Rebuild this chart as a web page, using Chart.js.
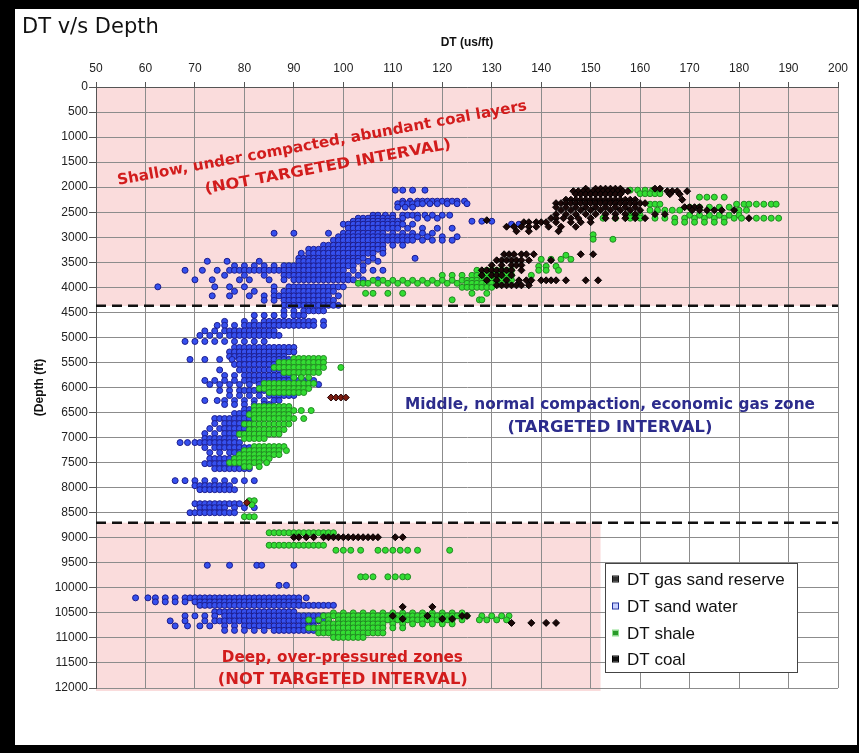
<!DOCTYPE html>
<html>
<head>
<meta charset="utf-8">
<title>DT v/s Depth</title>
<script src="https://cdn.jsdelivr.net/npm/chart.js@4.4.0/dist/chart.umd.min.js"></script>
<style>
  html, body { margin: 0; padding: 0; background: #fff; }
  #frame {
    position: absolute; left: 0; top: 0;
    width: 842px; height: 736px;
    border-style: solid; border-color: #000;
    border-width: 9px 2px 8px 15px;
    background: #fff;
  }
  canvas { display: block; }
</style>
</head>
<body>
<div id="frame"><canvas id="dt-depth-chart" width="842" height="736"></canvas></div>
<script>
// Sonic log picks, one row per depth: [depth (ft), DT (us/ft), DT, ...]
const sandWaterRows = [
  [2060, 110.5, 112, 114, 116.5],
  [2280, 112, 113.5, 115, 116, 117, 118, 119, 120, 121, 122, 123, 124.5],
  [2330, 111, 112, 113, 114, 115, 116, 117.5, 119, 121, 123, 125],
  [2400, 111, 112.5, 114],
  [2560, 106, 107, 108.5, 110, 112, 113, 114, 115, 116.5, 118, 120, 121.5],
  [2620, 103, 104, 105, 106, 107, 108, 109, 110, 112, 115, 117, 119],
  [2680, 102, 103, 104, 105, 106, 107, 108, 109, 110, 111, 126, 128, 130],
  [2740, 100, 101, 102, 103, 104, 105, 106, 107, 108, 109, 110, 111, 112, 114, 134, 135.5],
  [2820, 101, 102, 103, 104, 105, 106, 107, 108, 109, 110, 111, 113, 116, 119, 122],
  [2920, 86, 90, 97, 100, 101, 102, 103, 104, 105, 106, 107, 108, 110, 112, 114, 116, 118],
  [2990, 99, 100, 101, 102, 103, 104, 105, 106, 107, 108, 109, 110, 111, 112, 113, 114, 115, 117, 120, 123],
  [3060, 98, 99, 100, 101, 102, 103, 104, 105, 106, 107, 108, 109, 110, 111, 112, 113, 114, 116, 118, 120, 122],
  [3160, 96, 97, 98, 99, 100, 101, 102, 103, 104, 105, 106, 107, 108, 110, 112],
  [3240, 93, 94, 95, 96, 97, 98, 99, 100, 101, 102, 103, 104, 105, 106, 107, 108],
  [3320, 91.5, 93, 94, 95, 96, 97, 98, 99, 100, 101, 102, 103, 104, 105, 106, 108],
  [3420, 91, 92, 93, 94, 95, 96, 97, 98, 99, 100, 101, 102, 103, 104, 106, 114.5],
  [3480, 72.5, 76.5, 83, 91, 92, 93, 94, 95, 96, 97, 98, 99, 100, 101, 102, 103, 105, 107],
  [3570, 78, 80, 82, 84, 86, 88, 89, 90, 91, 92, 93, 94, 95, 96, 97, 98, 99, 100, 101, 102, 104],
  [3660, 68, 71.5, 74.5, 77, 78, 79, 80, 81, 82, 83, 84, 85, 86, 87, 88, 89, 90, 91, 92, 93, 94, 95, 96, 97, 98, 99, 100, 102, 104, 106, 108],
  [3760, 76, 80, 84, 88, 89, 90, 91, 92, 93, 94, 95, 96, 97, 98, 99, 100, 101, 103],
  [3850, 70, 73.5, 79, 81, 85, 88, 90, 91, 92, 93, 94, 95, 96, 97, 98, 99, 100, 101, 102, 104, 107],
  [3990, 62.5, 74, 77, 80, 86, 89, 90, 91, 92, 93, 94, 95, 96, 97, 98, 99, 100],
  [4080, 78, 82, 86, 88, 89, 90, 91, 92, 93, 94, 95, 96, 97, 98],
  [4170, 73.5, 77, 81, 84, 86, 87, 88, 89, 90, 91, 92, 93, 94, 95, 96, 97, 99],
  [4260, 84, 86, 88, 89, 90, 91, 92, 93, 94, 95, 96, 97, 98],
  [4360, 88, 89, 90, 91, 92, 93, 94, 95, 96, 97, 98, 99],
  [4470, 88, 90, 92, 93, 94, 95, 96],
  [4560, 82, 84, 86, 88, 90, 91, 92],
  [4680, 76, 80, 82, 84, 85, 86, 87, 88, 89, 90, 91, 92, 93, 94, 96],
  [4760, 74.5, 76, 78, 80, 81, 82, 83, 84, 85, 86, 87, 88, 89, 90, 91, 92, 93, 94, 96],
  [4870, 72, 74, 76, 77, 78, 79, 80, 81, 82, 83, 84, 85, 86],
  [4960, 71, 73, 75, 77, 78, 79, 80, 81, 82, 83, 84, 85, 86, 87],
  [5080, 68, 70, 72, 74, 76, 78, 80, 82, 84],
  [5200, 78, 79, 80, 81, 82, 83, 84, 85, 86, 87, 88, 89, 90],
  [5290, 77, 78, 79, 80, 81, 82, 83, 84, 85, 86, 87, 88, 89, 90],
  [5380, 77, 78, 79, 80, 81, 82, 83, 84, 85, 86, 87, 88],
  [5440, 69, 72, 75, 77.5, 79, 80, 81, 82, 83, 84, 85, 86, 87, 88, 89],
  [5540, 78, 79, 80, 81, 82, 83, 84, 85, 86, 87, 88],
  [5650, 75, 79, 80, 81, 82, 83, 84, 85, 86, 87, 88],
  [5760, 76, 78, 80, 81, 82, 83, 84, 85, 86, 87, 88, 89, 90],
  [5860, 72, 74, 76, 78, 80, 81, 82, 83, 84, 85, 86, 87, 88, 89, 90, 91, 92, 93, 94],
  [5940, 73, 75, 77, 79, 81, 83, 85, 87, 89, 91, 93, 95],
  [6060, 75, 77, 79, 80, 81, 82, 83, 84, 85, 86, 87, 88, 89, 90, 91, 92],
  [6160, 77, 79, 81, 83, 85, 86, 87, 88, 89, 90],
  [6260, 72, 74.5, 76, 78, 80, 82, 84, 86, 87],
  [6340, 76, 78, 80, 82, 84, 85],
  [6440, 80, 81, 82, 83, 84, 85],
  [6520, 78, 79, 80, 81, 82, 83],
  [6620, 74, 75, 76, 77, 78, 79, 80, 81, 82, 83],
  [6720, 74, 76, 77, 78, 79, 80, 81],
  [6820, 73, 75, 76, 77, 78, 79, 80, 81],
  [6920, 72, 74, 76, 77, 78, 79, 80],
  [7020, 72, 73, 74, 75, 76, 77, 78],
  [7100, 67, 68.5, 70, 71, 72, 73, 74, 75, 76, 77, 78, 79],
  [7200, 72, 74, 75, 76, 77, 78, 79, 80, 81, 82],
  [7300, 73, 75, 77, 78, 79, 80],
  [7420, 73, 74, 75, 76, 77, 78, 79, 80, 81],
  [7520, 72, 73, 74, 75, 76, 77, 78, 79],
  [7620, 74, 75, 76, 77, 78, 79, 80, 81],
  [7860, 66, 68, 70, 72, 74, 76, 78, 80, 82],
  [7960, 70, 71, 72, 73, 74, 75, 76, 77],
  [8040, 71, 72, 73, 74, 75, 76, 77, 78],
  [8320, 70, 71, 72, 73, 74, 75, 76, 77, 78, 79],
  [8400, 71, 72, 73, 74, 75, 76, 78, 80, 82],
  [8500, 69, 70, 71, 72, 73, 74, 75, 76, 77, 78],
  [9550, 72.5, 77, 82.5, 83.5, 90],
  [9950, 87, 88.5],
  [10200, 58, 60.5, 62, 64, 66, 68, 69, 70, 71, 72, 73, 74, 75, 76, 77, 78, 79, 80, 81, 82, 83, 84, 85, 86, 87, 88, 89, 90, 91, 92.5],
  [10280, 62, 64, 66, 68, 70, 71, 72, 73, 74, 75, 76, 77, 78, 79, 80, 81, 82, 83, 84, 85, 86, 87, 88, 89, 90, 91],
  [10350, 71, 72, 73, 74, 75, 76, 77, 78, 79, 80, 81, 82, 83, 84, 85, 86, 87, 88, 89, 90, 91, 92, 93, 94, 95, 96, 97, 98],
  [10480, 74, 75, 76, 77, 78, 79, 80, 81, 82, 83, 84, 85, 86, 87, 88, 89, 90],
  [10560, 68, 70, 72, 74, 76, 77, 78, 79, 80, 81, 82, 83, 84, 85, 86, 87, 88, 89, 90, 91, 92, 93, 94, 95, 96],
  [10660, 65, 68, 72, 74, 75, 76, 77, 78, 79, 80, 81, 82, 83, 84, 85, 86, 87, 88, 89, 90, 91, 92, 93, 94, 95, 96, 97],
  [10760, 66, 68.5, 71, 73, 76, 78, 80, 81, 82, 83, 84, 85, 86, 87, 88, 89, 90, 91, 92, 93, 94],
  [10850, 76, 78, 80, 82, 84, 86, 87, 88, 89, 90, 91, 92, 93, 94]
];

const shaleRows = [
  [2060, 158, 159.5, 161, 162.5, 164],
  [2130, 160, 161, 162, 163, 164],
  [2200, 172, 173.5, 175, 177],
  [2340, 162, 163, 164, 179.5, 181, 182, 183.5, 185, 186.5, 187.5],
  [2400, 170, 172, 174, 176, 178],
  [2460, 162, 163.5, 165, 166.5, 168, 180, 181.5],
  [2560, 158, 160, 170, 172, 174, 176, 178, 180],
  [2620, 152.5, 155, 158, 160, 163, 165, 167, 169, 171, 173, 175, 177, 179, 180.5, 183.5, 185, 186.5, 188],
  [2700, 167, 169, 171, 173, 175, 177],
  [2950, 150.5],
  [3040, 150.5, 154.5],
  [3360, 145],
  [3440, 140, 142, 144, 146],
  [3580, 139.5, 141, 143],
  [3660, 127, 129, 130, 131, 132, 133, 134, 139.5, 141, 143.5],
  [3760, 120, 122, 124, 126, 127, 128, 129, 130, 131, 132, 133, 134, 138],
  [3860, 106, 108, 110, 112, 114, 116, 118, 120, 122, 124, 125, 126, 127, 128, 129, 130, 131, 132, 133, 134],
  [3920, 103, 104, 105, 107, 109, 111, 113, 115, 117, 119, 121, 123, 125, 126, 127, 128, 129, 130, 131],
  [4000, 124, 125, 126, 127, 128, 129, 130],
  [4120, 104.5, 106, 109, 112, 126, 129],
  [4250, 122, 127.5, 128],
  [5420, 90, 91, 92, 93, 94, 95, 96],
  [5500, 87, 88, 89, 90, 91, 92, 93, 94, 95, 96],
  [5600, 86, 87, 88, 89, 90, 91, 92, 93, 94, 95, 96, 99.5],
  [5700, 88, 89, 90, 91, 92, 93, 94, 95],
  [5800, 90, 91.5, 93],
  [5920, 84, 85, 86, 87, 88, 89, 90, 91, 92, 93, 94],
  [6020, 83, 84, 85, 86, 87, 88, 89, 90, 91, 92, 93],
  [6100, 85, 86, 87, 88, 89, 90, 91, 92],
  [6380, 82, 83, 84, 85, 86, 87, 88, 89],
  [6460, 82, 83, 84, 85, 86, 87, 88, 89, 90, 91.5, 93.5],
  [6540, 81, 82, 83, 84, 85, 86, 87, 88, 89],
  [6620, 82, 83, 84, 85, 86, 87, 88, 89, 90, 92],
  [6730, 80, 81, 82, 83, 84, 85, 86, 87, 88, 89],
  [6840, 81, 82, 83, 84, 85, 86, 87, 88],
  [6930, 79, 80, 81, 82, 83, 84, 85, 86, 87],
  [7020, 80, 81, 82, 83, 84],
  [7180, 82, 83, 84, 85, 86, 87, 88],
  [7260, 80, 81, 82, 83, 84, 85, 86, 87, 88.5],
  [7340, 79, 80, 81, 82, 83, 84, 85, 86, 87],
  [7420, 78, 79, 80, 81, 82, 83, 84, 85],
  [7500, 77, 78, 79, 80, 81, 82, 83, 84.5],
  [7580, 80, 81, 83],
  [8260, 81, 82],
  [8340, 81.5],
  [8580, 80, 81, 82],
  [8900, 85, 86, 87, 88, 89, 90, 91, 92, 93, 94, 95, 96, 97, 98],
  [9150, 85, 86, 87, 88, 89, 90, 91, 92, 93, 94, 95, 96],
  [9250, 98.5, 100, 101.5, 103.5, 107, 108.5, 110, 111.5, 113, 115, 121.5],
  [9780, 103.5, 104.5, 106, 109, 110.5, 112, 113],
  [10500, 98, 100, 102, 104, 106, 108, 110, 112, 114, 116, 118, 120, 122, 124],
  [10560, 96, 97, 98, 99, 100, 101, 102, 103, 104, 105, 106, 107, 108, 109, 110, 111, 112, 113, 114, 115, 116, 117, 118, 119, 120, 121, 122, 123, 125, 128, 130, 132, 133.5],
  [10640, 93, 95, 97, 99, 100, 101, 102, 103, 104, 105, 106, 107, 108, 109, 110, 111, 112, 113, 114, 115, 116, 117, 118, 119, 120, 121, 122, 124, 127.5, 129, 131, 133],
  [10720, 96, 97, 98, 99, 100, 101, 102, 103, 104, 105, 106, 107, 108, 110, 112, 114, 116, 118, 120, 122],
  [10800, 93, 94, 95, 96, 97, 98, 99, 100, 101, 102, 103, 104, 105, 106, 107, 108, 110, 112],
  [10900, 95, 96, 97, 98, 99, 100, 101, 102, 103, 104, 105, 106, 107, 108],
  [10990, 98, 99, 100, 101, 102, 103, 104]
];

const coalRows = [
  [2030, 149, 151, 152, 153, 154, 155, 156, 163, 164],
  [2080, 146.5, 147.5, 148.5, 149.5, 150.5, 151.5, 152.5, 153.5, 154.5, 155.5, 156.5, 157.5, 165.5, 166.5, 167.5, 169.5],
  [2140, 147, 148, 149, 150, 151, 152, 153, 154, 155, 156, 166, 168],
  [2250, 145, 146, 147, 148, 149, 150, 151, 152, 153, 154, 155, 156, 157, 158, 159, 168.5],
  [2320, 143, 144, 145, 146, 147, 148, 149, 150, 151, 152, 153, 154, 155, 156, 157, 158, 159, 160, 161],
  [2400, 143, 145, 147, 149, 151, 153, 155, 157, 159, 169, 170, 171, 172],
  [2460, 144, 146, 148, 150, 152, 154, 156, 158, 160, 170.5, 172, 173.5, 175, 176.5, 179],
  [2540, 143, 145, 147, 149, 151, 153, 155, 157, 159, 163, 165],
  [2620, 142, 143, 144.5, 146, 147.5, 150, 153, 155, 157, 159, 161, 182],
  [2660, 129],
  [2700, 136.5, 137.5, 139, 140, 141, 143, 146, 148, 150],
  [2790, 133, 134.5, 136, 137.5, 139, 141.5, 144, 147],
  [2880, 135, 137.5, 143.5],
  [3340, 132.5, 133.5, 134.5, 136, 137, 138.5, 148, 150.5],
  [3460, 131, 132, 133, 134, 135, 136, 137.5, 142],
  [3560, 130, 132, 134, 135, 136],
  [3660, 128, 129, 130, 131, 132, 133, 134, 136],
  [3760, 128, 130, 131, 132, 134],
  [3860, 129, 131, 133, 135.5, 137, 138, 140, 141, 142, 143, 145, 149, 151.5],
  [3960, 131, 132, 133, 134, 135, 136, 137.5],
  [8990, 90, 91, 92.5, 94, 96, 97, 98, 99, 100, 101, 102, 103, 104, 105, 106, 107, 110.5, 112],
  [10380, 112, 118],
  [10560, 110, 117, 124, 125],
  [10620, 112, 120, 122],
  [10700, 134, 138, 141, 143]
];

const gasSandRows = [
  [6200, 97.5, 98.5, 99.5, 100.5],
  [8300, 80.5]
];

// Series names, in legend order
const seriesNames = ['DT gas sand reserve', 'DT sand water', 'DT shale', 'DT coal'];

// Axis ranges and tick spacing
const dtMin = 50, dtMax = 200, dtStep = 10;
const depthMin = 0, depthMax = 12000, depthStep = 500;

// Zone boundaries (ft) and right edge (us/ft) of the deep shaded interval
const shallowBase = 4370;
const deepTop = 8700;
const deepShadeMaxDT = 152;

function rowsToPoints(rows) {
  return rows.flatMap(([depth, ...dts]) => dts.map(dt => ({ x: dt, y: depth })));
}

function scatterSet(label, rows, fill, border, style, radius) {
  return {
    type: 'scatter',
    label: label,
    data: rowsToPoints(rows),
    backgroundColor: fill,
    borderColor: border,
    borderWidth: 1,
    pointStyle: style,
    pointRadius: radius,
    pointHoverRadius: radius
  };
}

function boundaryLine(depth) {
  return {
    type: 'line',
    label: 'boundary',
    data: [{ x: dtMin, y: depth }, { x: dtMax, y: depth }],
    borderColor: '#111',
    borderWidth: 2.5,
    borderDash: [10, 6],
    pointRadius: 0,
    fill: false
  };
}

// Pink shading for the non-targeted intervals, drawn under the grid
const zoneShading = {
  id: 'zoneShading',
  beforeDraw(chart) {
    const { ctx, scales: { x, y } } = chart;
    ctx.save();
    ctx.fillStyle = '#fadcdc';
    const l = x.getPixelForValue(dtMin), r = x.getPixelForValue(dtMax);
    ctx.fillRect(l, y.getPixelForValue(depthMin), r - l, y.getPixelForValue(shallowBase) - y.getPixelForValue(depthMin));
    const r2 = x.getPixelForValue(deepShadeMaxDT);
    ctx.fillRect(l, y.getPixelForValue(deepTop), r2 - l, y.getPixelForValue(depthMax) - y.getPixelForValue(deepTop) + 3);
    ctx.restore();
  }
};

function drawNote(ctx, text, px, py, color, angle, width) {
  ctx.save();
  ctx.translate(px, py);
  if (angle) ctx.rotate(angle);
  ctx.font = 'bold 15px "DejaVu Sans"';
  ctx.fillStyle = color;
  ctx.textAlign = 'center';
  ctx.textBaseline = 'middle';
  const w = ctx.measureText(text).width;
  ctx.scale(width / w, 1);
  ctx.fillText(text, 0, 0);
  ctx.restore();
}

// Interval notes, anchored in data coordinates
const zoneNotes = {
  id: 'zoneNotes',
  afterDatasetsDraw(chart) {
    const { ctx, scales: { x, y } } = chart;
    const red = '#d21c1c', navy = '#2c2c8c';
    const tilt = -0.181;
    drawNote(ctx, 'Shallow, under compacted, abundant coal layers', x.getPixelForValue(95.7), y.getPixelForValue(1130), red, tilt, 416);
    drawNote(ctx, '(NOT TARGETED INTERVAL)', x.getPixelForValue(96.9), y.getPixelForValue(1600), red, tilt, 250);
    drawNote(ctx, 'Middle, normal compaction, economic gas zone', x.getPixelForValue(153.9), y.getPixelForValue(6360), navy, 0, 410);
    drawNote(ctx, '(TARGETED INTERVAL)', x.getPixelForValue(153.9), y.getPixelForValue(6820), navy, 0, 205);
    drawNote(ctx, 'Deep, over-pressured zones', x.getPixelForValue(99.8), y.getPixelForValue(11400), red, 0, 241);
    drawNote(ctx, '(NOT TARGETED INTERVAL)', x.getPixelForValue(99.9), y.getPixelForValue(11840), red, 0, 250);
  }
};

// Boxed legend inside the plot, lower right
const boxLegend = {
  id: 'boxLegend',
  afterDraw(chart) {
    const { ctx } = chart;
    const left = 590, top = 554, w = 192, h = 109;
    ctx.save();
    ctx.fillStyle = '#fff';
    ctx.fillRect(left, top, w, h);
    ctx.strokeStyle = '#444';
    ctx.lineWidth = 1;
    ctx.strokeRect(left + 0.5, top + 0.5, w, h);
    ctx.font = '17px "Liberation Sans"';
    ctx.textBaseline = 'middle';
    const rowY = [570, 597, 624, 650];
    seriesNames.forEach((name, i) => {
      const ds = chart.data.datasets.find(d => d.label === name);
      ctx.fillStyle = ds.legendFill;
      ctx.strokeStyle = ds.legendEdge;
      ctx.fillRect(598, rowY[i] - 2.5, 5, 5);
      ctx.strokeRect(597.5, rowY[i] - 3, 6, 6);
      ctx.fillStyle = '#111';
      ctx.fillText(name, 612, rowY[i] + 1);
    });
    ctx.restore();
  }
};

const gasSand = scatterSet(seriesNames[0], gasSandRows, '#7a1c10', '#2a0505', 'rectRot', 3.5);
gasSand.legendFill = '#333'; gasSand.legendEdge = '#111';
const sandWater = scatterSet(seriesNames[1], sandWaterRows, '#3550ee', '#1c1c8c', 'circle', 3);
sandWater.legendFill = '#c8d0ff'; sandWater.legendEdge = '#2030a0';
const shale = scatterSet(seriesNames[2], shaleRows, '#33dd33', '#238823', 'circle', 3);
shale.legendFill = '#2a9a2a'; shale.legendEdge = '#8fe08f';
const coal = scatterSet(seriesNames[3], coalRows, '#1c0808', '#000', 'rectRot', 3.5);
coal.legendFill = '#111'; coal.legendEdge = '#000';

const tickFont = { family: '"Liberation Sans"', size: 12 };
const gridColor = '#8c8c8c';

new Chart(document.getElementById('dt-depth-chart'), {
  data: {
    // first entries are drawn on top
    datasets: [boundaryLine(shallowBase), boundaryLine(deepTop), gasSand, coal, shale, sandWater]
  },
  options: {
    responsive: false,
    animation: false,
    devicePixelRatio: 1,
    layout: { padding: { left: 7, top: 0, right: 19, bottom: 57 } },
    plugins: {
      legend: { display: false },
      tooltip: { enabled: false },
      title: {
        display: true,
        text: 'DT v/s Depth',
        align: 'start',
        color: '#111',
        font: { family: '"DejaVu Sans"', size: 21, weight: 'normal' },
        padding: { top: 6, bottom: -6 }
      }
    },
    scales: {
      x: {
        type: 'linear',
        position: 'top',
        min: dtMin,
        max: dtMax,
        ticks: { stepSize: dtStep, color: '#222', font: tickFont, padding: 6, maxRotation: 0 },
        grid: { color: gridColor, tickLength: 5, tickColor: '#555' },
        border: { color: '#555' },
        title: {
          display: true,
          text: 'DT (us/ft)',
          color: '#111',
          font: { family: '"Liberation Sans"', size: 12, weight: 'bold' },
          padding: { top: 1.6, bottom: 0 }
        },
        afterFit(scale) { scale.height = 52.8; }
      },
      y: {
        type: 'linear',
        reverse: true,
        min: depthMin,
        max: depthMax,
        ticks: {
          stepSize: depthStep,
          autoSkip: false,
          color: '#222',
          font: tickFont,
          padding: 1,
          callback: value => String(value)
        },
        grid: { color: gridColor, tickLength: 7, tickColor: '#555' },
        border: { color: '#555' },
        title: {
          display: true,
          text: '(Depth (ft)',
          color: '#111',
          font: { family: '"Liberation Sans"', size: 12, weight: 'bold' },
          padding: { top: 10.8, bottom: 0 }
        },
        afterFit(scale) { scale.width = 74; }
      }
    }
  },
  plugins: [zoneShading, zoneNotes, boxLegend]
});
</script>
</body>
</html>
